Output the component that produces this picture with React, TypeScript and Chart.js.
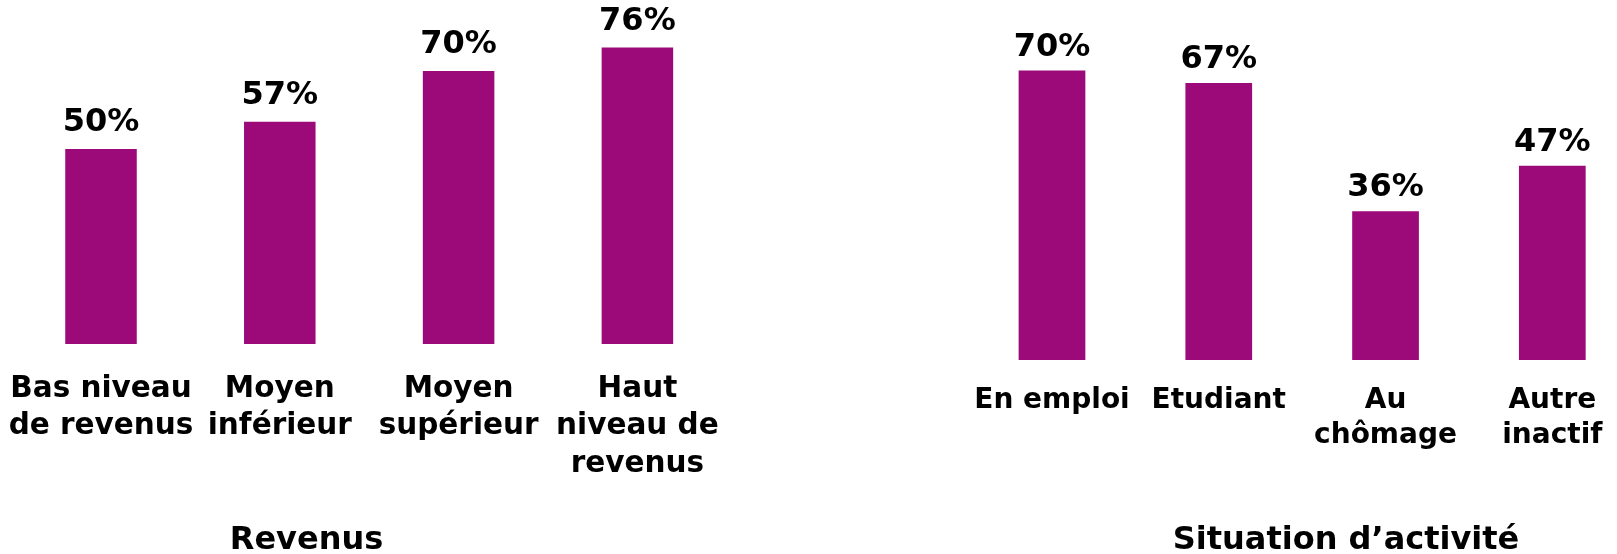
import React, { useEffect, useRef } from "react";
import { Chart, registerables } from "chart.js";

Chart.register(...registerables);

// ---- Data ----
const revenusLabels: string[][] = [
  ["Bas niveau", "de revenus"],
  ["Moyen", "inférieur"],
  ["Moyen", "supérieur"],
  ["Haut", "niveau de", "revenus"],
];
const revenusValues: number[] = [50, 57, 70, 76];
const revenusTitle = "Revenus";

const activiteLabels: string[][] = [
  ["En emploi"],
  ["Etudiant"],
  ["Au", "chômage"],
  ["Autre", "inactif"],
];
const activiteValues: number[] = [70, 67, 36, 47];
const activiteTitle = "Situation d’activité";

const BAR_COLOR = "#9C0A7A";
const FONT = '"DejaVu Sans", Verdana, sans-serif';

const valueLabelPlugin = {
  id: "valueLabels",
  afterDatasetsDraw(chart: any, _args: any, opts: any) {
    const ctx = chart.ctx;
    const meta = chart.getDatasetMeta(0);
    const data = chart.data.datasets[0].data;
    ctx.save();
    ctx.font = `bold ${opts.size}px ${FONT}`;
    ctx.fillStyle = "#000";
    ctx.textAlign = "center";
    ctx.textBaseline = "alphabetic";
    meta.data.forEach((el: any, i: number) => {
      ctx.fillText(`${data[i]}%`, el.x, el.y - opts.gap);
    });
    ctx.restore();
  },
};

const panelTitlePlugin = {
  id: "panelTitle",
  afterDraw(chart: any, _args: any, opts: any) {
    const ctx = chart.ctx;
    ctx.save();
    ctx.font = `bold ${opts.size}px ${FONT}`;
    ctx.fillStyle = "#000";
    ctx.textAlign = "center";
    ctx.textBaseline = "alphabetic";
    ctx.fillText(opts.text, opts.x, opts.y);
    ctx.restore();
  },
};

type PanelProps = {
  labels: string[][];
  values: number[];
  title: string;
  left: number;
  width: number;
  padLeft: number;
  padRight: number;
  axisHeight: number;
  yMax: number;
  tickSize: number;
  tickLineHeight: number;
  tickPadding: number;
  labelGap: number;
  titleX: number;
};

function Panel(p: PanelProps) {
  const ref = useRef<HTMLCanvasElement | null>(null);
  useEffect(() => {
    if (!ref.current) return;
    const chart = new Chart(ref.current, {
      type: "bar",
      data: {
        labels: p.labels,
        datasets: [
          {
            data: p.values,
            backgroundColor: BAR_COLOR,
            borderWidth: 0,
            categoryPercentage: 1,
            barPercentage: 0.4,
          },
        ],
      },
      plugins: [valueLabelPlugin, panelTitlePlugin],
      options: {
        animation: false,
        responsive: true,
        maintainAspectRatio: false,
        layout: { padding: { left: p.padLeft, right: p.padRight, top: 0, bottom: 0 } },
        plugins: {
          legend: { display: false },
          tooltip: { enabled: false },
          valueLabels: { size: 32, gap: p.labelGap },
          panelTitle: { text: p.title, x: p.titleX, y: 549, size: 32 },
        } as any,
        scales: {
          x: {
            grid: { display: false, drawTicks: false },
            border: { display: false },
            ticks: {
              color: "#000",
              autoSkip: false,
              maxRotation: 0,
              minRotation: 0,
              padding: p.tickPadding,
              font: { family: FONT, weight: "bold", size: p.tickSize, lineHeight: p.tickLineHeight },
            },
            afterFit: (scale: any) => {
              scale.height = p.axisHeight;
              scale.paddingLeft = 0;
              scale.paddingRight = 0;
            },
          },
          y: {
            display: false,
            min: 0,
            max: p.yMax,
          },
        },
      },
    });
    return () => chart.destroy();
  }, []);
  return (
    <div style={{ position: "absolute", left: p.left, top: 0, width: p.width, height: 554 }}>
      <canvas ref={ref} />
    </div>
  );
}

export default function App() {
  return (
    <div
      style={{
        position: "fixed",
        left: 0,
        top: 0,
        width: 1617,
        height: 554,
        overflow: "hidden",
        background: "#fff",
      }}
    >
      <Panel
        labels={revenusLabels}
        values={revenusValues}
        title={revenusTitle}
        left={0}
        width={745}
        padLeft={11.6}
        padRight={18.2}
        axisHeight={210}
        yMax={88.2}
        tickSize={29.5}
        tickLineHeight={1.26}
        tickPadding={27}
        labelGap={18}
        titleX={306.5}
      />
      <Panel
        labels={activiteLabels}
        values={activiteValues}
        title={activiteTitle}
        left={940}
        width={720}
        padLeft={28.6}
        padRight={24.3}
        axisHeight={194}
        yMax={87.06}
        tickSize={28}
        tickLineHeight={1.25}
        tickPadding={23}
        labelGap={15}
        titleX={406}
      />
    </div>
  );
}
